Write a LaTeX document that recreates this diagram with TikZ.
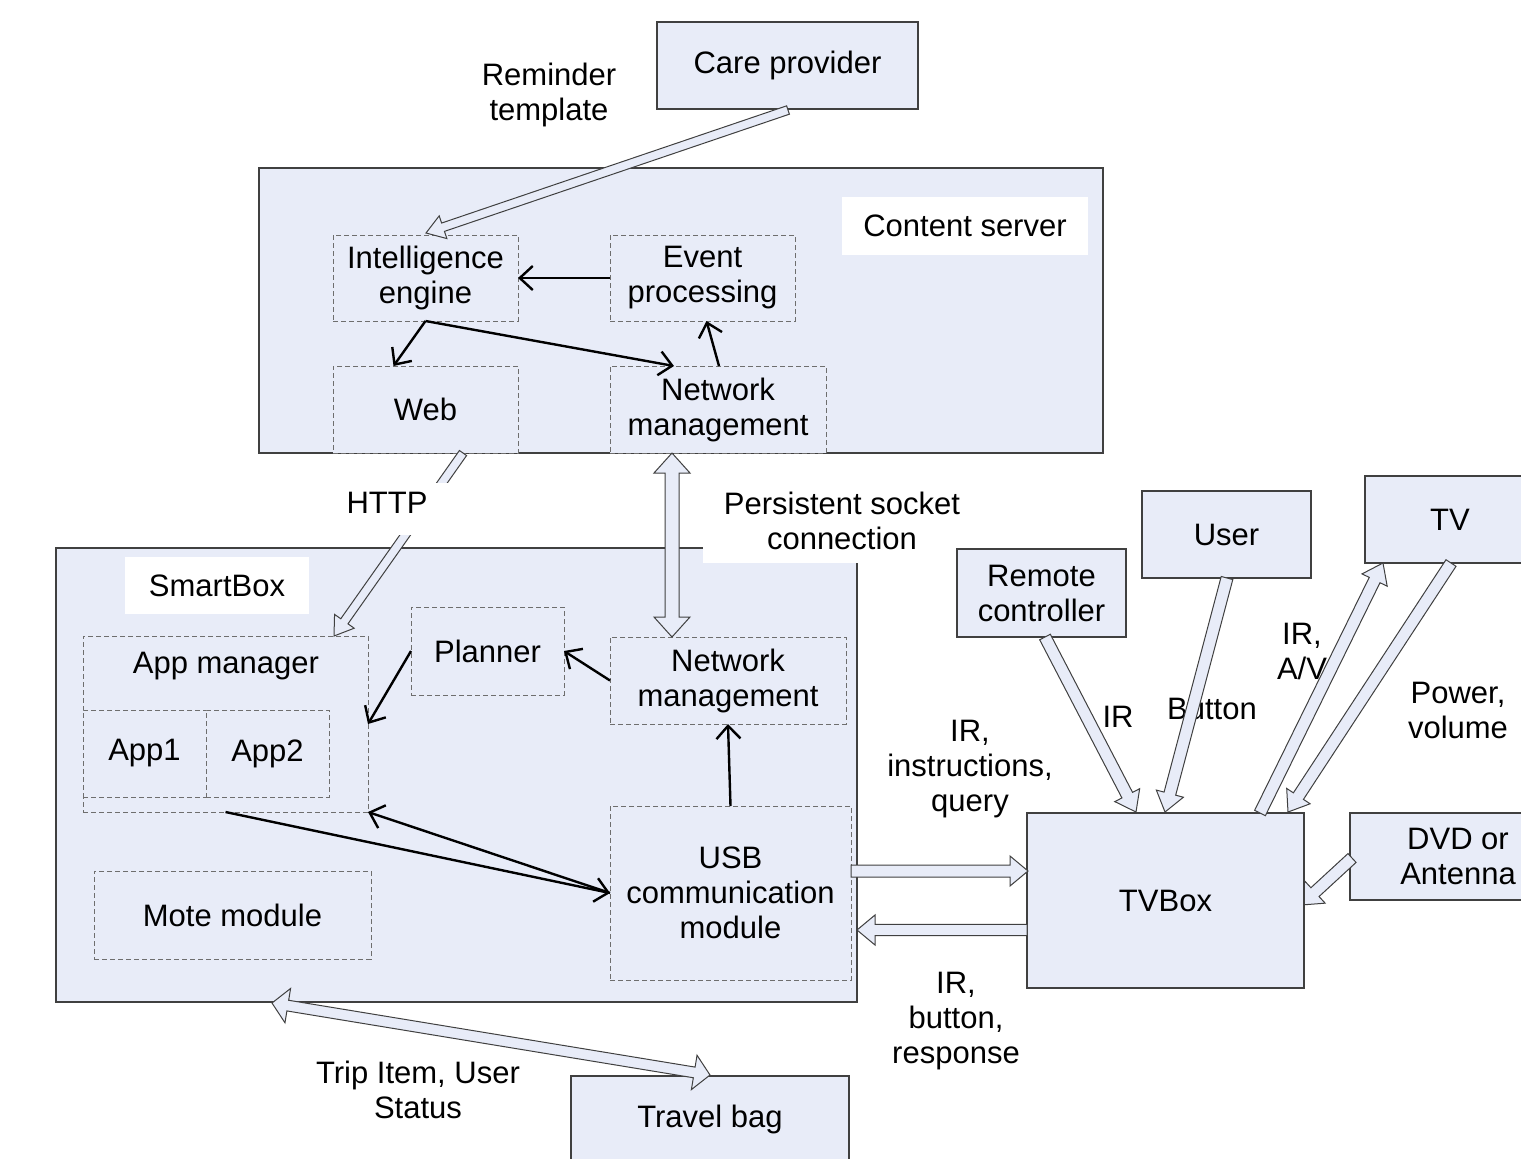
\documentclass[tikz,border=0pt]{standalone}
\usepackage{fontspec}
\setmainfont{Liberation Sans}
\usetikzlibrary{calc,arrows.meta}
\definecolor{boxfill}{RGB}{232,236,248}
\definecolor{boxline}{RGB}{64,64,64}
\definecolor{dashline}{RGB}{110,110,110}
% block arrow: #1 start, #2 end, #3 shaft half width, #4 head half width, #5 head length
\newcommand\blockarrow[5]{%
  \coordinate (bac) at ($#2!#5!#1$);
  \filldraw[barrow] ($#1!#3!90:#2$) -- ($(bac)!#3!90:#2$) -- ($(bac)!#4!90:#2$) -- #2
    -- ($(bac)!#4!-90:#2$) -- ($(bac)!#3!-90:#2$) -- ($#1!#3!-90:#2$) -- cycle;
}
\newcommand\dblockarrow[5]{%
  \coordinate (bac) at ($#2!#5!#1$);
  \coordinate (bad) at ($#1!#5!#2$);
  \filldraw[barrow] #1 -- ($(bad)!#4!90:#2$) -- ($(bad)!#3!90:#2$) -- ($(bac)!#3!90:#2$)
    -- ($(bac)!#4!90:#2$) -- #2 -- ($(bac)!#4!-90:#2$) -- ($(bac)!#3!-90:#2$)
    -- ($(bad)!#3!-90:#2$) -- ($(bad)!#4!-90:#2$) -- cycle;
}
\begin{document}
\begin{tikzpicture}[x=0.5pt,y=-0.5pt,
  font=\fontsize{15.5pt}{17.5pt}\selectfont,
  solidbox/.style={draw=boxline, fill=boxfill, line width=0.75pt, inner sep=0pt, outer sep=0pt, align=center},
  dashbox/.style={draw=dashline, fill=boxfill, line width=0.5pt, dash pattern=on 2.5pt off 1.5pt, inner sep=0pt, outer sep=0pt, align=center},
  whitelabel/.style={fill=white, inner sep=0pt, align=center},
  lbl/.style={align=center, inner sep=0pt},
  conn/.style={line width=1.2pt, -{Straight Barb[length=6.5pt,width=12pt]}},
  barrow/.style={draw=boxline, fill=boxfill, line width=0.5pt, line join=miter}]
\useasboundingbox (0,0) rectangle (1521,1158);

% ---- top
\node[solidbox, minimum width=130.5pt, minimum height=43.5pt] (care) at (787.5,65.5) {Care provider};
\node[lbl] (remlbl) at (549,95) {Reminder\\template};

% ---- content server
\node[solidbox, minimum width=422pt, minimum height=142.5pt] (cs) at (681,310.5) {};
\node[whitelabel, minimum width=123pt, minimum height=29pt] (cslbl) at (965,226) {Content server};
\node[dashbox, minimum width=92.5pt, minimum height=43pt] (intel) at (425.5,278) {Intelligence\\engine};
\node[dashbox, minimum width=92.5pt, minimum height=43pt] (event) at (702.5,278) {Event\\processing};
\node[dashbox, minimum width=92.5pt, minimum height=43.5pt] (web) at (425.5,409.5) {Web};
\node[dashbox, minimum width=108pt, minimum height=43.5pt] (netT) at (718,409.5) {Network\\management};

% ---- smartbox
\node[solidbox, minimum width=400.5pt, minimum height=227pt] (sb) at (456.5,775) {};
\node[whitelabel, minimum width=92pt, minimum height=28.5pt] (sblbl) at (217,585.5) {SmartBox};
\node[dashbox, minimum width=142.5pt, minimum height=88pt] (appm) at (225.5,724) {};
\node[lbl] (appmlbl) at (226,666) {App manager};
\node[dashbox, minimum width=61.5pt, minimum height=43.5pt] (app1) at (144.5,753.5) {App1};
\node[dashbox, minimum width=61.5pt, minimum height=43.5pt] (app2) at (267.5,753.5) {App2};
\node[dashbox, minimum width=76.5pt, minimum height=44pt] (planner) at (487.5,651) {Planner};
\node[dashbox, minimum width=118pt, minimum height=43.5pt] (netB) at (728,680.5) {Network\\management};
\node[dashbox, minimum width=120.5pt, minimum height=87pt] (usb) at (730.5,893) {USB\\communication\\module};
\node[dashbox, minimum width=138.5pt, minimum height=44pt] (mote) at (232.5,915) {Mote module};
\node[whitelabel, minimum width=139pt, minimum height=42.5pt] (socklbl) at (842,520.5) {Persistent socket\\connection};

% ---- right side boxes
\node[solidbox, minimum width=84.5pt, minimum height=44pt] (remote) at (1041.5,593) {Remote\\controller};
\node[solidbox, minimum width=84.5pt, minimum height=43.5pt] (user) at (1226.5,534.5) {User};
\node[solidbox, minimum width=85pt, minimum height=43.5pt] (tv) at (1450,519.5) {TV};
\node[solidbox, minimum width=108pt, minimum height=43.5pt] (dvd) at (1458,856.5) {DVD or\\Antenna};
\node[solidbox, minimum width=139pt, minimum height=43.5pt] (bag) at (710,1119.5) {Travel bag};

% DVD arrow goes under the TVBox
\coordinate (dvA) at (1352,858);
\coordinate (dvB) at (1301,905);
\blockarrow{(dvA)}{(dvB)}{3pt}{7.5pt}{9.5pt}
\node[solidbox, minimum width=138.5pt, minimum height=87.5pt] (tvbox) at (1165.5,900.5) {TVBox};

% ---- labels
\node[lbl] (lblinst) at (970,769) {IR,\\instructions,\\query};
\node[lbl] (lblir) at (1118,717) {IR};
\node[lbl] (lblbut) at (1212,709) {Button};
\node[lbl] (lblav) at (1302,651) {IR,\\A/V};
\node[lbl] (lblpow) at (1458,710) {Power,\\volume};
\node[lbl] (lblresp) at (956,1021) {IR,\\button,\\response};
\node[lbl] (lbltrip) at (418,1090) {Trip Item, User\\Status};

% ---- thin connectors
\draw[conn] (event.west) -- (intel.east);
\draw[conn] (intel.south) -- ([xshift=-16pt]web.north);
\draw[conn] (intel.south) -- ([xshift=-22pt]netT.north);
\draw[conn] ([xshift=0.5pt]netT.north) -- ([xshift=2pt]event.south);
\draw[conn] (netB.west) -- (planner.east);
\draw[conn] (planner.west) -- (appm.east);
\draw[conn] (usb.north) -- (netB.south);
\draw[conn] (appm.south) -- (usb.west);
\draw[conn] (usb.west) -- (appm.south east);

% ---- block arrows
\coordinate (cpA) at (788,110);
\coordinate (cpB) at (426,233);
\blockarrow{(cpA)}{(cpB)}{2.2pt}{6pt}{9pt}
\coordinate (httpA) at (463,453);
\coordinate (httpB) at (334,636);
\blockarrow{(httpA)}{(httpB)}{2.2pt}{6pt}{9pt}
\fill[white] (319,483) rectangle (455,535);
\node[lbl] (httplbl) at (387,503) {HTTP};
\coordinate (sockA) at (672,453);
\coordinate (sockB) at (672,637);
\dblockarrow{(sockA)}{(sockB)}{3.5pt}{9pt}{10pt}

\coordinate (rcA) at (1045,637);
\coordinate (rcB) at (1136,812);
\blockarrow{(rcA)}{(rcB)}{3pt}{7pt}{9.5pt}
\coordinate (usA) at (1227,578);
\coordinate (usB) at (1165,812);
\blockarrow{(usA)}{(usB)}{3pt}{7pt}{9.5pt}
\coordinate (tvA) at (1260,813);
\coordinate (tvB) at (1383,563);
\blockarrow{(tvA)}{(tvB)}{3pt}{7pt}{9.5pt}
\coordinate (tvC) at (1451,563);
\coordinate (tvD) at (1288,812);
\blockarrow{(tvC)}{(tvD)}{3pt}{7pt}{9.5pt}
\coordinate (utA) at (851,871);
\coordinate (utB) at (1028,871);
\blockarrow{(utA)}{(utB)}{3pt}{7.5pt}{9pt}
\coordinate (tuA) at (1027,930);
\coordinate (tuB) at (857,930);
\blockarrow{(tuA)}{(tuB)}{2.8pt}{7.5pt}{9pt}
\coordinate (sbA) at (272,1003);
\coordinate (sbB) at (710,1075);
\dblockarrow{(sbA)}{(sbB)}{2.7pt}{8.7pt}{8pt}
\end{tikzpicture}
\end{document}
